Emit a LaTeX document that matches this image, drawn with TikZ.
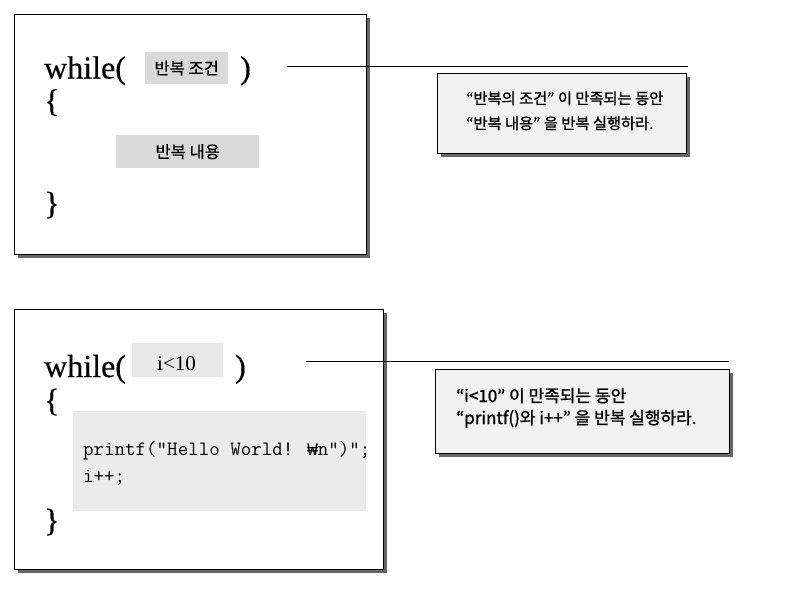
\documentclass[tikz,border=0pt]{standalone}
\usepackage{fontspec}
\setmainfont{Liberation Serif}
\newfontfamily\kwfont[FakeBold=0.4]{Liberation Serif}
\newfontfamily\krfont[FakeBold=0.5]{Noto Sans CJK KR}
\newfontfamily\krnotefont[FakeBold=1.2]{Noto Sans CJK KR}
\newfontfamily\codefont{Latin Modern Mono}
\newfontfamily\wonfont{Liberation Mono}
\usetikzlibrary{shadows}
\definecolor{condA}{HTML}{D9D9D9}
\definecolor{condB}{HTML}{E8E8E8}
\definecolor{bodyB}{HTML}{EBEBEB}
\definecolor{noteA}{HTML}{F2F2F2}
\begin{document}
\begin{tikzpicture}[x=1pt,y=-1pt,
  frame/.style={draw=black, line width=1pt, fill=white, anchor=north west, inner sep=0pt,
    drop shadow={shadow xshift=3pt, shadow yshift=-3pt, fill=black!60, opacity=1}},
  note/.style={frame, fill=noteA},
  graybox/.style={anchor=north west, inner sep=0pt, draw=none},
  kw/.style={anchor=base west, inner sep=0pt, font=\kwfont\fontsize{32}{36}\selectfont},
  krtxt/.style={inner sep=0pt, font=\krfont\fontsize{16.5}{18}\selectfont},
  notetxt/.style={anchor=base west, inner sep=0pt, font=\krnotefont\fontsize{15.3}{18}\selectfont},
  codetxt/.style={anchor=base west, inner sep=0pt, font=\codefont\fontsize{20.4}{22}\selectfont},
  conn/.style={draw=black, line width=1pt}
]
\useasboundingbox[fill=white] (0,0) rectangle (794,592);

% ---------- top example ----------
\node[frame, minimum width=352pt, minimum height=240pt] (frameA) at (14,14) {};
\node[kw] (whileA) at (44,78.5) {while(};
\node[graybox, fill=condA, minimum width=83pt, minimum height=32pt] (condA) at (145,52) {};
\node[krtxt] (condAt) at (condA.center) {반복 조건};
\node[kw] (closeA) at (240,78.5) {)};
\node[kw] (openbrA) at (44,111.5) {\{};
\node[graybox, fill=condA, minimum width=143pt, minimum height=33pt] (bodyA) at (116,135) {};
\node[krtxt] (bodyAt) at (bodyA.center) {반복 내용};
\node[kw] (closebrA) at (44,214) {\}};

\node[note, minimum width=249pt, minimum height=80pt] (noteA) at (437,73) {};
\node[notetxt] (noteA1) at (466,104) {“반복의 조건” 이 만족되는 동안};
\node[notetxt] (noteA2) at (466,129) {“반복 내용” 을 반복 실행하라.};

\coordinate (lineAs) at (287,66);
\coordinate (lineAe) at (688,66);
\draw[conn] (lineAs) -- (lineAe);

% ---------- bottom example ----------
\node[frame, minimum width=369pt, minimum height=260pt] (frameB) at (14,309) {};
\node[kw] (whileB) at (44,377) {while(};
\node[graybox, fill=condB, minimum width=91pt, minimum height=34pt] (condB) at (132,343) {};
\node[inner sep=0pt, anchor=base west, font=\fontsize{21}{24}\selectfont] (condBt) at (157,370) {i<10};
\node[kw] (closeB) at (235,377) {)};
\node[kw] (openbrB) at (44,411) {\{};
\node[graybox, fill=bodyB, minimum width=293pt, minimum height=100pt] (bodyB) at (73,411) {};
\node[codetxt] (codeB1) at (83,455) {printf(”Hello World! {\wonfont\fontsize{17.5}{20}\selectfont ₩}n”)”;};
\node[codetxt] (codeB2) at (83,482) {i++;};
\node[kw] (closebrB) at (44,531) {\}};

\node[note, minimum width=294pt, minimum height=84pt] (noteB) at (435,369) {};
\node[notetxt, font=\krnotefont\fontsize{17}{18}\selectfont] (noteB1) at (456,402) {“i<10” 이 만족되는 동안};
\node[notetxt, font=\krnotefont\fontsize{17}{18}\selectfont] (noteB2) at (456,424) {“printf()와 i++” 을 반복 실행하라.};

\coordinate (lineBs) at (306,361);
\coordinate (lineBe) at (729,361);
\draw[conn] (lineBs) -- (lineBe);
\end{tikzpicture}
\end{document}
